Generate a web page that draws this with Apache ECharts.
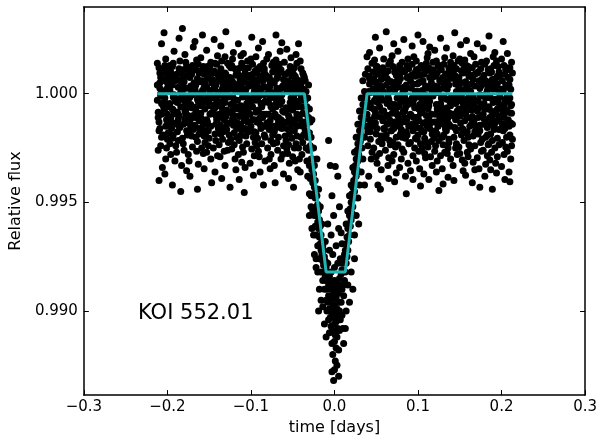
<!DOCTYPE html>
<html>
<head>
<meta charset="utf-8">
<script src="https://cdn.jsdelivr.net/npm/echarts@6/dist/echarts.min.js"></script>
<style>
html, body { margin: 0; padding: 0; background: #fff; }
#main { width: 600px; height: 441px; }
</style>
</head>
<body>
<div id="main"></div>
<script>
// points are flat pairs: time (0.001 day), flux offset from 1 (1e-5)
var leftPts = [
-212,40,-211,-85,-210,120,-209,-160,-212,-30,-208,75,-207,-200,-206,10,-211,-260,-209,95,-205,-55,-210,-130,-207,230,-206,-340,-208,-10,-212,140,-205,-190,-209,25,-207,-95,-210,-400,-206,60,-208,-240,
-204,-70,-203,130,-202,-150,-201,20,-200,-210,-199,85,-204,280,-203,-40,-202,-300,-201,-120,-200,50,-199,-180,-198,110,-204,-15,-202,160,-201,-250,-200,-95,-199,35,-203,-370,-198,-60,-200,-140,-201,90,
-197,15,-196,-110,-195,70,-194,-205,-193,140,-197,-45,-196,-280,-195,-160,-194,40,-193,-75,-192,195,-191,-20,-197,-230,-196,100,-195,-130,-194,-420,-192,-5,-191,60,-193,-190,-192,-90,-191,-310,-194,125,
-190,-35,-189,90,-188,-175,-187,30,-186,-100,-185,150,-184,-60,-190,-240,-189,-135,-188,65,-187,-215,-186,255,-185,-25,-184,5,-183,-330,-188,-85,-186,115,-185,-155,-184,-450,-183,45,-187,-120,-189,-270,
-182,70,-181,-140,-180,-10,-179,180,-178,-95,-177,25,-182,-205,-181,110,-180,-260,-179,-55,-178,145,-177,-170,-176,-30,-182,300,-180,55,-179,-115,-177,-355,-176,85,-181,-230,-178,-75,-183,-15,-176,-190,
-175,-50,-174,100,-173,-125,-172,35,-171,-195,-170,130,-175,-280,-174,-20,-173,75,-172,-150,-171,10,-170,-245,-169,215,-175,-100,-173,-380,-172,120,-171,-65,-170,-5,-169,-165,-174,-310,-168,50,-168,-110,
-167,20,-166,-80,-165,155,-164,-220,-163,-35,-162,95,-167,-145,-166,40,-165,-265,-164,-110,-163,135,-162,-185,-161,-15,-167,240,-165,-60,-164,70,-163,-325,-162,-125,-166,-200,-161,105,-164,-440,-163,0,
-160,-90,-159,60,-158,-160,-157,125,-156,-40,-155,-225,-160,165,-159,-115,-158,15,-157,-275,-156,90,-155,-70,-154,-180,-160,-5,-158,270,-157,-140,-156,-345,-155,45,-154,110,-159,-250,-157,-30,-156,-195,
-153,30,-152,-130,-151,85,-150,-205,-149,-55,-148,145,-153,-270,-152,-10,-151,-170,-150,110,-149,-95,-148,-300,-147,50,-153,200,-151,-240,-150,-45,-149,15,-148,-150,-147,-410,-152,125,-146,-85,-146,65,
-145,-20,-144,105,-143,-185,-142,40,-141,-120,-140,175,-145,-250,-144,-70,-143,20,-142,-215,-141,135,-140,-35,-139,-160,-145,95,-143,-360,-142,-100,-141,60,-140,-285,-144,250,-139,5,-142,-140,-143,-50,
-138,80,-137,-145,-136,-5,-135,150,-134,-210,-133,45,-138,-95,-137,-290,-136,115,-135,-60,-134,25,-133,-175,-132,-120,-138,-235,-136,220,-135,-390,-134,70,-133,-30,-137,100,-132,-265,-136,-155,-134,-80,
-131,-40,-130,90,-129,-165,-128,15,-127,-225,-126,130,-131,170,-130,-105,-129,55,-128,-260,-127,-15,-126,-190,-125,75,-131,-330,-129,-75,-128,140,-127,35,-126,-135,-125,-430,-130,285,-124,-50,-124,-210,
-123,60,-122,-115,-121,20,-120,-180,-119,115,-118,-60,-123,-255,-122,160,-121,-145,-120,-25,-119,-300,-118,85,-117,-200,-123,-90,-121,190,-120,40,-119,-130,-118,-350,-122,-10,-117,100,-120,-235,-121,-70,
-116,-135,-115,45,-114,-215,-113,120,-112,-55,-111,-170,-116,95,-115,-280,-114,10,-113,-100,-112,175,-111,30,-110,-245,-116,-30,-114,-395,-113,65,-112,-150,-111,-315,-115,230,-110,-80,-113,-195,-111,140,
-109,0,-108,-125,-107,95,-106,-195,-105,-45,-104,150,-109,-270,-108,55,-107,-160,-106,20,-105,-230,-104,-90,-103,120,-109,185,-107,-340,-106,-110,-105,75,-104,-20,-108,-455,-103,-175,-102,35,-102,-65,
-101,85,-100,-150,-99,-30,-98,135,-97,-200,-96,10,-101,-95,-100,160,-99,-255,-98,-60,-97,50,-96,-175,-95,105,-101,-320,-99,260,-98,-120,-97,-15,-96,-285,-100,40,-95,-225,-97,-375,-98,70,
-94,-85,-93,40,-92,-205,-91,110,-90,-10,-89,-140,-94,170,-93,-240,-92,65,-91,-75,-90,-290,-89,125,-88,-45,-94,-180,-92,-25,-91,210,-90,-115,-89,-360,-93,95,-88,-160,-91,-265,-89,15,
-87,25,-86,-110,-85,140,-84,-190,-83,-35,-82,85,-87,-230,-86,55,-85,-150,-84,-5,-83,-310,-82,-95,-81,160,-87,-60,-85,-420,-84,115,-83,-200,-82,30,-86,240,-81,-135,-80,-250,-80,70,
-79,-140,-78,75,-77,-20,-76,-215,-75,130,-74,-70,-79,180,-78,-165,-77,35,-76,-280,-75,-105,-74,100,-73,-230,-79,-40,-77,-345,-76,60,-75,5,-74,-190,-78,-300,-73,145,-77,-125,-75,-55,
-72,50,-71,-95,-70,155,-69,-225,-68,-15,-67,90,-72,-175,-71,120,-70,-60,-69,25,-68,-260,-67,-130,-66,-35,-72,-330,-70,270,-69,-110,-68,80,-67,-200,-71,-410,-66,135,-69,-155,-68,10,
-65,-50,-64,110,-63,-160,-62,35,-61,-240,-60,145,-65,195,-64,-120,-63,-5,-62,-280,-61,65,-60,-85,-59,-195,-65,-20,-63,235,-62,-145,-61,-370,-60,40,-64,-300,-59,90,-58,-65,-58,-215,
-57,15,-56,-130,-55,100,-54,-185,-53,-40,-52,165,-57,-255,-56,60,-55,-100,-54,-320,-53,125,-52,-60,-51,-205,-57,205,-55,-390,-54,30,-53,-160,-52,-20,-56,-275,-51,80,-54,-110,-55,-235,
-50,-75,-49,90,-48,-170,-47,20,-46,-230,-45,140,-50,-290,-49,-20,-48,55,-47,-140,-46,180,-45,-95,-44,-350,-50,110,-48,-250,-47,-45,-46,70,-45,-195,-49,-430,-44,5,-47,-310,-48,-120,
-43,35,-42,-115,-41,150,-40,-200,-39,-30,-38,95,-43,-250,-42,60,-41,-145,-40,-10,-39,-280,-38,-90,-37,-190,-43,230,-41,-360,-40,115,-39,-60,-38,-225,-42,-300,-37,20,-36,-130,-36,75
];
var leftCore = [
-211,-110,-209,50,-207,-45,-205,105,-210,-170,-208,0,-203,-20,-201,75,-199,-125,-198,30,-202,-65,-204,115,
-196,40,-194,-70,-192,-140,-190,85,-193,-15,-197,130,-188,-40,-186,-150,-184,95,-182,15,-189,-95,-185,60,
-181,30,-179,-80,-177,125,-175,-135,-180,-30,-178,80,-173,-15,-171,90,-169,-100,-168,20,-174,-170,-172,-50,
-166,110,-164,-25,-162,-160,-160,55,-165,-90,-163,60,-159,-55,-157,15,-155,100,-153,-120,-158,-175,-156,30,
-151,-30,-149,130,-147,-90,-146,-10,-152,70,-150,-150,-144,35,-142,-60,-140,-120,-139,85,-143,140,-141,-15,
-137,-40,-135,10,-133,-110,-131,95,-136,-185,-134,50,-130,-10,-128,-85,-126,40,-124,120,-129,-140,-127,75,
-122,55,-120,-100,-118,10,-117,-160,-123,130,-121,-40,-115,-70,-113,-140,-111,80,-110,-15,-116,30,-114,-105,
-108,120,-106,-60,-104,-130,-103,45,-109,-90,-107,5,-100,-45,-98,90,-96,-120,-95,20,-101,-170,-99,60,
-93,-130,-91,10,-89,65,-88,-95,-94,-30,-92,115,-86,-45,-84,100,-82,-150,-80,0,-87,80,-85,-95,
-78,15,-76,-60,-74,135,-73,-175,-79,-95,-77,50,-71,-20,-69,70,-67,-110,-66,100,-72,-150,-70,-45,
-64,25,-62,-80,-60,-130,-59,45,-65,110,-63,-35,-56,-70,-54,95,-52,-135,-51,15,-57,-160,-55,55,
-49,-10,-47,80,-45,-150,-44,-60,-50,35,-48,120,-42,-100,-40,45,-38,-150,-37,85,-43,-35,-41,10
];
var rightPts = [
39,-20,40,115,41,-150,42,45,43,-210,44,-65,39,170,40,-240,41,80,42,-120,43,5,44,-300,45,140,39,-95,41,-380,42,190,43,-45,44,60,40,-175,45,-270,46,20,46,-140,
47,70,48,-105,49,25,50,-185,51,125,52,-40,47,-250,48,155,49,-135,50,-5,51,-320,52,90,53,-220,47,-70,49,260,50,50,51,-160,52,-420,48,-30,53,110,50,-290,49,-85,
54,-60,55,95,56,-195,57,30,58,-125,59,160,54,-275,55,-15,56,65,57,-230,58,120,59,-80,60,-165,54,210,56,-350,57,-110,58,10,59,-205,55,-440,60,75,57,-30,61,-260,
62,40,63,-140,64,105,65,-25,66,-215,67,150,62,-190,63,70,64,-100,65,-295,66,20,67,-60,68,-170,62,285,64,-330,65,135,66,-120,67,-235,63,-45,68,55,65,-390,64,0,
69,-90,70,125,71,-160,72,15,73,-245,74,85,69,175,70,-55,71,-280,72,-130,73,45,74,-200,75,-20,69,-310,71,230,72,100,73,-75,74,-365,70,-225,75,60,72,-405,73,-150,
76,30,77,-120,78,90,79,-185,80,-40,81,145,76,-235,77,55,78,-145,79,-10,80,-300,81,110,82,-85,76,195,78,-340,79,70,80,-165,81,-255,77,-60,82,25,79,-115,81,-200,
83,-35,84,100,85,-205,86,40,87,-115,88,160,83,-270,84,-80,85,20,86,-175,87,130,88,-50,89,-230,83,250,85,-380,86,-130,87,75,88,-320,84,-15,89,115,86,-460,87,-190,
91,60,92,-100,93,135,94,-170,95,-25,96,95,91,-225,92,25,93,-140,94,-285,95,170,96,-65,97,-205,91,-355,93,220,94,45,95,-110,96,-250,92,-40,97,80,94,-395,95,-160,
98,-110,99,45,100,-190,101,115,102,-50,103,-230,98,150,99,-155,100,10,101,-265,102,85,103,-90,104,-20,98,-310,100,270,101,-125,102,-345,103,55,99,-210,104,130,101,-70,103,-425,
105,15,106,-135,107,90,108,-205,109,-60,110,140,105,-250,106,60,107,-175,108,-5,109,-295,110,-100,111,165,105,-80,107,-370,108,115,109,35,110,-225,106,240,111,-150,108,-275,109,-30,
112,-70,113,120,114,-160,115,30,116,-220,117,75,112,185,113,-115,114,-35,115,-290,116,100,117,-185,118,-10,112,-245,114,215,115,-135,116,50,117,-330,113,-395,118,145,116,-95,119,-205,
120,35,121,-95,122,150,123,-185,124,5,125,-130,120,-265,121,80,122,-50,123,-310,124,125,125,-215,126,60,120,200,122,-360,123,-70,124,-150,125,20,121,-240,126,-115,123,95,125,-445,
127,-45,128,110,129,-200,130,25,131,-140,132,165,127,-285,128,-20,129,70,130,-235,131,135,132,-85,133,-165,127,255,129,-345,130,-110,131,40,132,-270,128,-60,133,90,130,-415,131,-190,
134,55,135,-120,136,95,137,-210,138,-35,139,145,134,-170,135,20,136,-250,137,120,138,-90,139,-300,140,-15,134,210,136,-385,137,-140,138,70,139,-55,135,-275,140,105,137,-225,141,-100,
142,-25,143,130,144,-155,145,45,146,-230,147,-80,142,175,143,-200,144,85,145,-120,146,10,147,-280,148,150,142,-330,144,280,145,-45,146,-170,147,60,143,-400,148,-105,145,-250,146,115,
149,75,150,-100,151,20,152,-190,153,140,154,-45,149,-245,150,160,151,-135,152,-10,153,-305,154,95,155,-215,149,-70,151,225,152,50,153,-160,154,-355,150,-275,155,115,152,-90,154,-30,
156,-125,157,55,158,-180,159,105,160,-20,161,-235,156,155,157,-90,158,30,159,-270,160,125,161,-65,162,-150,156,-320,158,245,159,-40,160,-200,161,80,157,-375,162,15,159,-110,160,-290,
163,10,164,-140,165,120,166,-195,167,-55,168,90,163,-255,164,45,165,-105,166,-315,167,170,168,-175,169,-30,163,185,165,-410,166,65,167,-130,168,-240,164,-75,169,135,166,-15,168,-350,
171,-80,172,100,173,-165,174,25,175,-225,176,145,171,-295,172,-35,173,60,174,-145,175,115,176,-100,177,-210,171,230,173,-345,174,-5,175,-60,176,-265,172,-185,177,70,174,-430,175,35,
178,45,179,-115,180,135,181,-200,182,-10,183,-155,178,-260,179,85,180,-70,181,-325,182,150,183,15,184,-235,178,210,180,-380,181,-130,182,55,183,-285,179,-45,184,110,181,-20,183,-190,
185,-60,186,95,187,-185,188,40,189,-120,190,170,185,-230,186,-15,187,115,188,-270,189,65,190,-95,191,-165,185,265,187,-350,188,-80,189,-215,190,20,186,-305,191,130,188,-140,189,-440,
192,25,193,-130,194,150,195,-205,196,-40,197,100,192,-250,193,70,194,-95,195,-290,196,125,197,-165,198,-15,192,190,194,-365,195,45,196,-120,197,-235,193,-320,198,85,195,-70,197,5,
200,-100,201,60,202,-170,203,130,204,-30,205,-245,200,160,201,-140,202,15,203,-280,204,90,205,-75,206,-200,200,-335,202,240,203,-110,204,-395,205,40,201,-225,206,120,203,-50,204,-160,
207,30,208,-120,209,110,210,-190,211,-55,212,145,207,-265,208,75,209,-150,210,-20,211,-300,212,-90,213,-210,207,185,209,-360,210,65,211,-135,212,-240,208,-35,213,95,210,-405,211,20
];
var rightCore = [
40,-60,42,70,44,-130,46,100,41,10,43,-175,48,-35,50,125,52,-105,53,20,47,-150,49,55,
55,35,57,-80,59,-160,61,90,56,-20,58,-115,63,-100,65,60,67,-45,68,-170,62,105,64,-15,
70,-140,72,-50,74,110,75,-95,69,25,71,35,77,80,79,-35,81,-130,82,5,76,-100,78,130,
84,-110,86,-30,88,75,89,-150,83,30,85,-65,92,85,94,-45,96,-140,97,10,91,-95,93,-20,
99,-15,101,50,103,-160,104,-55,98,110,100,-110,106,-40,108,100,110,-130,111,25,105,-175,107,-10,
113,-55,115,-130,117,10,118,110,112,-20,114,75,121,-170,123,30,125,-70,126,130,120,-130,122,5,
128,-95,130,75,132,-20,133,-155,127,55,129,-130,135,-65,137,40,139,-150,141,95,134,-25,136,-110,
143,70,145,-160,147,-35,148,40,142,-95,144,-10,150,-30,152,105,154,-165,155,-60,149,15,151,-100,
157,10,159,-175,161,90,162,-40,156,-80,158,130,164,-115,166,-50,168,35,169,-150,163,80,165,-25,
172,-110,174,-170,176,40,177,-10,171,95,173,-65,179,-140,181,60,183,-70,184,30,178,-95,180,-5,
186,-110,188,100,190,-40,191,-150,185,45,187,-20,193,-25,195,80,197,-120,198,-60,192,-135,194,40,
201,-70,203,-140,205,110,206,-20,200,20,202,-95,208,-85,210,120,212,-50,213,-140,207,-10,209,40
];
var transitPts = [
-35,-30,-35,-170,-35,60,-34,-95,-34,-250,-34,10,-33,-140,-33,-60,-33,-310,-32,-200,-32,-20,-32,-380,-31,-110,-31,-260,-31,40,-30,-180,-30,-330,-30,-70,-30,-460,
-29,-240,-29,-130,-29,-390,-28,-300,-28,-200,-28,-470,-27,-350,-27,-250,-27,-120,-26,-410,-26,-300,-26,-540,-25,-370,-25,-460,-25,-250,-24,-430,-24,-560,-24,-330,
-23,-480,-23,-400,-23,-610,-22,-520,-22,-440,-22,-650,-21,-560,-21,-470,-21,-300,-20,-590,-20,-510,-20,-700,-19,-620,-19,-540,-19,-440,-18,-660,-18,-580,-18,-760,
-17,-690,-17,-610,-17,-520,-16,-720,-16,-650,-16,-820,-15,-740,-15,-680,-15,-600,-14,-770,-14,-700,-14,-860,-13,-790,-13,-720,-12,-820,-12,-750,-12,-900,
-11,-840,-11,-770,-11,-680,-10,-860,-10,-800,-10,-950,
-7,-215,-5,-330,1,-335,4,-380,-3,-470,6,-520,-8,-600,8,-640,-1,-560,
-9,-820,-9,-900,-9,-1000,-8,-860,-8,-960,-8,-780,-7,-880,-7,-1040,-7,-930,-6,-840,-6,-990,-6,-1100,-5,-870,-5,-950,-5,-1030,-4,-900,-4,-1070,-4,-820,
-3,-940,-3,-1010,-3,-1150,-2,-880,-2,-980,-2,-1090,-2,-1200,-1,-920,-1,-1030,-1,-1320,0,-860,0,-970,0,-1060,0,-1140,0,-1270,1,-900,1,-1000,1,-1110,1,-1230,
2,-940,2,-1050,2,-1170,3,-870,3,-990,3,-1120,4,-920,4,-1020,4,-1080,5,-880,5,-960,5,-1180,6,-850,6,-1000,6,-1090,7,-900,7,-1040,8,-830,8,-960,
9,-810,9,-900,9,-1020,10,-780,10,-880,11,-760,11,-930,12,-740,12,-860,
13,-720,13,-820,14,-690,14,-780,14,-600,15,-660,15,-750,16,-620,16,-720,16,-540,17,-600,17,-680,18,-560,18,-650,18,-470,19,-530,19,-610,20,-500,20,-580,20,-420,
21,-460,21,-550,22,-430,22,-520,22,-340,23,-400,23,-480,24,-360,24,-450,24,-270,25,-330,25,-420,26,-300,26,-380,26,-200,27,-260,27,-350,28,-230,28,-310,28,-140,
29,-200,29,-280,30,-170,30,-250,30,-80,31,-140,31,-220,32,-110,32,-190,32,-20,33,-80,33,-250,34,-50,34,-150,34,60,35,-20,35,-120,36,10,36,-200,37,-60,37,90,38,-10,38,-150
];
var transitExtra = [
-20,-820,-18,-900,-16,-950,-22,-760,-19,-1000,16,-880,18,-960,20,-820,22,-900,24,-760,14,-1000,13,-1080,
-12,-1060,-14,-980,10,-1080,11,-1150,-10,-1120,3,-1250,-3,-1280,5,-1300,
-4,-650,2,-700,5,-620,-6,-720,7,-760,-2,-740,9,-690,0,-800,4,-780,
-28,-520,-25,-650,-30,-560,-24,-740,-22,-800,-27,-620,26,-560,28,-480,30,-420,24,-650,32,-360,29,-600,34,-300,36,-420
];

// transit model (trapezoid)
var modelTime = [-0.212, -0.036, -0.010, 0.013, 0.039, 0.213];
var modelFlux = [1.0, 1.0, 0.9918, 0.9918, 1.0, 1.0];

var yTicks = [0.990, 0.995, 1.000];

function toPairs(arr) {
	var out = [];
	for (var i = 0; i < arr.length; i += 2) {
		out.push([arr[i] / 1000, 1 + arr[i + 1] / 1e5]);
	}
	return out;
}

var points = toPairs(leftPts).concat(toPairs(leftCore), toPairs(transitPts), toPairs(transitExtra),
	toPairs(rightPts), toPairs(rightCore));
var model = modelTime.map(function (t, i) { return [t, modelFlux[i]]; });

var font = 'DejaVu Sans';

function xFmt(v) {
	var s = Math.abs(v).toFixed(1);
	return (v < -1e-9 ? '\u2212' : '') + s;
}

var axisLine = { onZero: false, lineStyle: { color: '#000', width: 1.5 } };
var tickIn = { inside: true, length: 5, lineStyle: { color: '#000', width: 1 } };

var myChart = echarts.init(document.getElementById('main'));

var option = {
	animation: false,
	backgroundColor: '#fff',
	grid: { left: 78, right: 12, top: 7, bottom: 43, containLabel: false },
	xAxis: [{
		type: 'value', position: 'bottom', min: -0.3, max: 0.3, interval: 0.1,
		name: 'time [days]', nameLocation: 'middle', nameGap: 21,
		nameTextStyle: { fontFamily: font, fontSize: 16, color: '#000' },
		axisLine: axisLine, axisTick: tickIn, splitLine: { show: false },
		axisLabel: { formatter: xFmt, fontFamily: font, fontSize: 15, color: '#000', margin: 5 }
	}, {
		type: 'value', position: 'top', min: -0.3, max: 0.3, interval: 0.1,
		axisLine: axisLine, axisTick: tickIn, splitLine: { show: false },
		axisLabel: { show: false }
	}],
	yAxis: [{
		type: 'value', position: 'left', min: 0.98613, max: 1.00399,
		name: 'Relative flux', nameLocation: 'middle', nameGap: 50,
		nameTextStyle: { fontFamily: font, fontSize: 16, color: '#000' },
		axisLine: axisLine, splitLine: { show: false },
		axisTick: { inside: true, length: 5, lineStyle: { color: '#000' }, customValues: yTicks },
		axisLabel: {
			customValues: yTicks, fontFamily: font, fontSize: 15, color: '#000', margin: 6,
			formatter: function (v) { return v.toFixed(3); }
		}
	}, {
		type: 'value', position: 'right', min: 0.98613, max: 1.00399,
		axisLine: axisLine, splitLine: { show: false },
		axisTick: { inside: true, length: 5, lineStyle: { color: '#000' }, customValues: yTicks },
		axisLabel: { show: false }
	}],
	graphic: [{
		type: 'text', left: 138, top: 303,
		style: { text: 'KOI 552.01', fontFamily: font, fontSize: 21, fill: '#000' }
	}],
	series: [{
		type: 'scatter',
		data: points,
		symbolSize: 7,
		itemStyle: { color: '#000', opacity: 1 },
		z: 2
	}, {
		type: 'line',
		data: model,
		symbol: 'none',
		lineStyle: { color: '#22b4b4', width: 3 },
		z: 3
	}]
};

myChart.setOption(option);
</script>
</body>
</html>
